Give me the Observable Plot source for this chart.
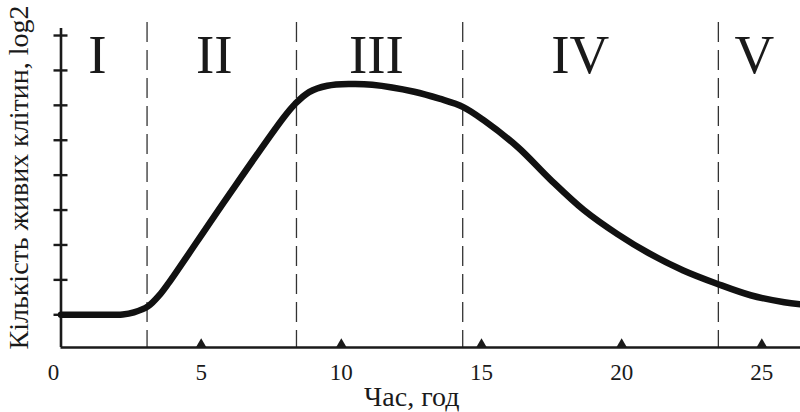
<!DOCTYPE html>
<html>
<head>
<meta charset="utf-8">
<script src="https://cdn.jsdelivr.net/npm/d3@7"></script>
<script src="https://cdn.jsdelivr.net/npm/@observablehq/plot@0.6"></script>
<style>
  body { margin: 0; background: #fff; }
  svg { display: block; }
</style>
</head>
<body>
<div id="chart"></div>
<script>
// Bacterial growth curve: time (hours) vs. number of living cells (log2)
const hours = [0, 1.2, 2.2, 2.6, 3.1, 3.55, 3.85, 5.9, 7.95, 8.35, 8.85, 9.5, 10.3, 11.1, 12.6, 13.5, 14.35, 15.1, 16.3, 17.45, 18.65, 19.85, 21.0, 22.2, 23.4, 24.6, 25.8, 26.4];
const cells = [1, 1, 1.01, 1.07, 1.24, 1.6, 1.92, 4.33, 6.66, 7.04, 7.38, 7.56, 7.61, 7.59, 7.39, 7.19, 6.95, 6.56, 5.8, 4.88, 4.0, 3.31, 2.75, 2.27, 1.89, 1.56, 1.36, 1.3];

// Phase boundaries (hours) and phase names
const phaseBounds = [3.07, 8.4, 14.33, 23.45];
const phaseNames = ["I", "II", "III", "IV", "V"];
const phaseCenters = [1.3, 5.47, 11.25, 18.52, 24.73];

const xTicks = [0, 5, 10, 15, 20, 25];
const yTicks = [1, 2, 3, 4, 5, 6, 7, 8, 9];

const xTitle = "Час, год";
const yTitle = "Кількість живих клітин, log2";

const xDomain = [0, 26.38];
const yDomain = [0.063, 9.373];

const growth = hours.map((t, i) => ({t, v: cells[i]}));
const phases = phaseNames.map((name, i) => ({name, t: phaseCenters[i]}));

const serif = "'Liberation Serif', 'Times New Roman', serif";
const ink = "#1a1a1a";

const chart = Plot.plot({
  width: 800,
  height: 412,
  marginLeft: 60.5,
  marginRight: 0,
  marginTop: 22,
  marginBottom: 65,
  x: {domain: xDomain, axis: null},
  y: {domain: yDomain, axis: null},
  style: {fontFamily: serif, color: ink, background: "#fff", overflow: "visible"},
  marks: [
    // phase separators
    Plot.ruleX(phaseBounds, {stroke: "#333", strokeWidth: 1.3, strokeDasharray: "20,8"}),
    // axes
    Plot.ruleY([yDomain[0]], {stroke: ink, strokeWidth: 2.6}),
    Plot.ruleX([0], {stroke: ink, strokeWidth: 2.6, insetTop: 6}),
    Plot.ruleY(yTicks, {x1: 0, x2: 0, insetLeft: -7, insetRight: -7, stroke: ink, strokeWidth: 2.4}),
    Plot.dot(xTicks.slice(1), {x: d => d, frameAnchor: "bottom", symbol: "triangle", r: 4.2, fill: ink, stroke: "none", dy: -2.8}),
    Plot.text(xTicks.slice(0, 1), {x: d => d, text: d => String(d), frameAnchor: "bottom", lineAnchor: "bottom", dy: 32, dx: -7.5, fontSize: 23, fill: ink}),
    Plot.text(xTicks.slice(1), {x: d => d, text: d => String(d), frameAnchor: "bottom", lineAnchor: "bottom", dy: 32, fontSize: 23, fill: ink}),
    // axis titles
    Plot.text([xTitle], {frameAnchor: "bottom", lineAnchor: "bottom", dx: -19, dy: 58, fontSize: 28, fill: ink}),
    Plot.text([yTitle], {frameAnchor: "left", textAnchor: "middle", rotate: -90, lineAnchor: "bottom", dx: -33.5, dy: -7.5, fontSize: 28, fill: ink}),
    // phase labels
    Plot.text(phases, {x: "t", text: "name", frameAnchor: "top", lineAnchor: "middle", dy: 33, fontSize: 55, fill: ink}),
    // growth curve
    Plot.line(growth, {x: "t", y: "v", curve: "catmull-rom", stroke: "#111", strokeWidth: 6.5, strokeLinejoin: "round"})
  ]
});

document.getElementById("chart").appendChild(chart);
</script>
</body>
</html>
